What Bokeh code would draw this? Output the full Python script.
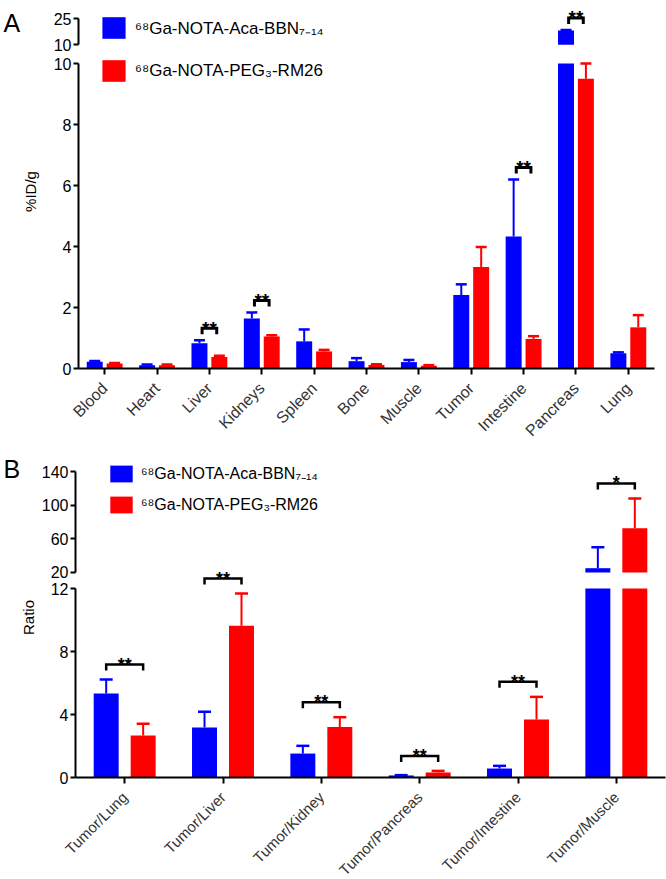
import numpy as np
from bokeh.plotting import figure
from bokeh.models import Range1d, LinearAxis, FixedTicker, Legend, LegendItem, Label
from bokeh.layouts import column
from bokeh.embed import file_html
from bokeh.resources import INLINE
from bokeh.core.properties import value

FONT = "Liberation Sans"
BLUE = "#0000ff"
RED = "#ff0000"
LABEL_BBN = "⁶⁸Ga-NOTA-Aca-BBN₇₋₁₄"
LABEL_RM26 = "⁶⁸Ga-NOTA-PEG₃-RM26"

# ---------------- Panel A data (%ID/g) ----------------
organs = ["Blood", "Heart", "Liver", "Kidneys", "Spleen", "Bone", "Muscle",
          "Tumor", "Intestine", "Pancreas", "Lung"]
a_bbn_mean = [0.22, 0.11, 0.83, 1.64, 0.89, 0.24, 0.21, 2.41, 4.33, 18.3, 0.50]
a_bbn_sd = [0.03, 0.02, 0.10, 0.20, 0.39, 0.10, 0.07, 0.35, 1.87, 0.3, 0.03]
a_rm26_mean = [0.16, 0.11, 0.38, 1.05, 0.56, 0.12, 0.09, 3.33, 0.97, 9.5, 1.35]
a_rm26_sd = [0.02, 0.02, 0.04, 0.04, 0.05, 0.02, 0.02, 0.65, 0.09, 0.5, 0.40]
a_sig_cats = ["Liver", "Kidneys", "Intestine", "Pancreas"]
a_sig_marks = ["**", "**", "**", "**"]
a_low_ticks = [0, 2, 4, 6, 8, 10]
a_high_ticks = [10, 25]

# ---------------- Panel B data (ratios) ----------------
ratios = ["Tumor/Lung", "Tumor/Liver", "Tumor/Kidney", "Tumor/Pancreas",
          "Tumor/Intestine", "Tumor/Muscle"]
b_bbn_mean = [5.33, 3.17, 1.52, 0.13, 0.57, 25.1]
b_bbn_sd = [0.89, 1.00, 0.49, 0.02, 0.17, 24.9]
b_rm26_mean = [2.67, 9.63, 3.20, 0.32, 3.68, 72.5]
b_rm26_sd = [0.74, 2.05, 0.63, 0.10, 1.44, 35.5]
b_sig_cats = ["Tumor/Lung", "Tumor/Liver", "Tumor/Kidney", "Tumor/Pancreas",
              "Tumor/Intestine", "Tumor/Muscle"]
b_sig_marks = ["**", "**", "**", "**", "**", "*"]
b_low_ticks = [0, 4, 8, 12]
b_high_ticks = [20, 60, 100, 140]


def build_panel(cats, m1, s1, m2, s2, sig_cats, sig_marks, low_ticks, high_ticks, cfg):
    n = len(cats)
    W, H = cfg["width"], cfg["height"]
    left, right, bottom = cfg["left"], cfg["right"], cfg["bottom"]
    inner_h = H - bottom
    ppx = (W - left - right) / n
    low_top = cfg["low_top"]
    ppu_low = inner_h / low_top
    h0, h1 = cfg["high_span"]
    ppu_high = inner_h / (h1 - h0)
    x_range = Range1d(-0.5 - left / ppx, n - 0.5 + right / ppx)
    low_range = (-bottom / ppu_low, low_top)
    high_range = (h0 - bottom / ppu_high, h1)

    # the whole canvas is the plotting frame, so nothing outside it is clipped
    p = figure(width=W, height=H, output_backend="svg", toolbar_location=None, title=None,
               x_range=x_range, y_range=Range1d(*low_range),
               x_axis_location=None, y_axis_location=None,
               min_border=0, min_border_left=0, min_border_right=0,
               min_border_top=0, min_border_bottom=0)
    p.extra_y_ranges = {"high": Range1d(*high_range)}
    p.outline_line_color = None
    p.xgrid.visible = False
    p.ygrid.visible = False
    p.background_fill_color = "white"
    p.border_fill_color = "white"

    low_break = low_ticks[-1]
    high_start = high_ticks[0]

    x = np.arange(n, dtype=float)
    bar_renderers = []
    for sign, color, mean, sd in ((-1, BLUE, m1, s1), (1, RED, m2, s2)):
        mean = np.asarray(mean, float)
        sd = np.asarray(sd, float)
        xs = x + sign * cfg["offset"]
        r = p.vbar(x=xs, bottom=0, top=np.minimum(mean, low_break), width=cfg["bar_w"],
                   fill_color=color, line_color=None)
        bar_renderers.append(r)
        hi = mean > low_break
        if hi.any():
            p.vbar(x=xs[hi], bottom=high_start, top=mean[hi], width=cfg["bar_w"],
                   fill_color=color, line_color=None, y_range_name="high")
        for mask, rname in ((~hi, "default"), (hi, "high")):
            if mask.any():
                p.segment(x0=xs[mask], y0=mean[mask], x1=xs[mask], y1=(mean + sd)[mask],
                          line_color=color, line_width=cfg["stem_w"], y_range_name=rname)
                p.scatter(x=xs[mask], y=(mean + sd)[mask], marker="dash", size=cfg["cap"],
                          line_color=color, line_width=cfg["cap_w"], y_range_name=rname)

    # significance brackets
    groups = {"default": dict(xs=[], ys=[], tx=[], ty=[], tt=[]),
              "high": dict(xs=[], ys=[], tx=[], ty=[], tt=[])}
    hw = cfg["bracket_half"]
    for name, mark in zip(sig_cats, sig_marks):
        i = cats.index(name)
        top = max(m1[i] + s1[i], m2[i] + s2[i])
        if max(m1[i], m2[i]) > low_break:
            rname, ppu, rtop = "high", ppu_high, h1
        else:
            rname, ppu, rtop = "default", ppu_low, low_top
        yb = top + cfg["gap"] / ppu
        yb = min(yb, rtop - cfg["min_top"] / ppu)
        ya = yb - cfg["arm"] / ppu
        g = groups[rname]
        g["xs"].append([i - hw, i - hw, i + hw, i + hw])
        g["ys"].append([ya, yb, yb, ya])
        g["tx"].append(i)
        g["ty"].append(yb)
        g["tt"].append(mark)
    for rname, g in groups.items():
        if g["xs"]:
            p.multi_line(xs=g["xs"], ys=g["ys"], line_color="black",
                         line_width=cfg["bracket_w"], line_join="miter", y_range_name=rname)
            p.text(x=g["tx"], y=g["ty"], text=g["tt"], text_font=value(FONT),
                   text_font_style="bold", text_font_size=cfg["star_size"],
                   text_align="center", text_baseline="alphabetic", y_offset=0,
                   text_color="black", y_range_name=rname)

    # axes (drawn at fixed data locations inside the frame)
    axis_style = dict(axis_line_width=2, axis_line_color="black",
                      major_tick_line_width=2, major_tick_line_color="black",
                      major_tick_in=0, minor_tick_in=0, minor_tick_out=0,
                      major_label_text_font=FONT, major_label_text_color="black")
    ax_low = LinearAxis(ticker=FixedTicker(ticks=low_ticks),
                        bounds=(low_ticks[0], low_ticks[-1]), fixed_location=-0.5,
                        major_tick_out=5, major_label_standoff=2,
                        major_label_text_font_size=cfg["ytick_size"], **axis_style)
    ax_high = LinearAxis(y_range_name="high", ticker=FixedTicker(ticks=high_ticks),
                         bounds=(high_ticks[0], high_ticks[-1]), fixed_location=-0.5,
                         major_tick_out=5, major_label_standoff=2,
                         major_label_text_font_size=cfg["ytick_size"], **axis_style)
    ax_x = LinearAxis(ticker=FixedTicker(ticks=list(range(n))),
                      major_label_overrides={i: c for i, c in enumerate(cats)},
                      major_label_orientation=np.pi / 4, fixed_location=0,
                      bounds=(-0.5, n - 0.5),
                      major_tick_out=6, major_label_standoff=cfg["xlabel_standoff"],
                      major_label_text_font_size=cfg["xtick_size"], **axis_style)
    ax_x.major_label_text_color = "#333333"
    p.add_layout(ax_low, "left")
    p.add_layout(ax_high, "left")
    p.add_layout(ax_x, "below")

    # legend
    legend = Legend(items=[LegendItem(label=LABEL_BBN, renderers=[bar_renderers[0]]),
                           LegendItem(label=LABEL_RM26, renderers=[bar_renderers[1]])],
                    location=cfg["legend_loc"], glyph_width=cfg["glyph_w"],
                    glyph_height=cfg["glyph_h"], label_height=cfg["glyph_h"],
                    spacing=cfg["legend_spacing"], padding=0, margin=0,
                    label_standoff=cfg["label_standoff"], border_line_color=None,
                    background_fill_alpha=0, label_text_font=FONT,
                    label_text_font_size=cfg["legend_size"], label_text_color="black")
    p.add_layout(legend)

    # panel letter and y title
    p.add_layout(Label(x=cfg["letter_pos"][0], y=cfg["letter_pos"][1], x_units="screen",
                       y_units="screen", text=cfg["letter"], text_font=FONT,
                       text_font_size="25px", text_baseline="middle", text_color="black"))
    p.add_layout(Label(x=cfg["ytitle_pos"][0], y=cfg["ytitle_pos"][1], x_units="screen",
                       y_units="screen", text=cfg["ytitle"], text_font=FONT,
                       text_font_size="15px", angle=np.pi / 2, text_align="center",
                       text_baseline="middle", text_color="black"))
    return p


cfg_a = dict(width=666, height=445, left=78, right=12, bottom=77,
             low_top=12.066, high_span=(-176.75, 35.56),
             offset=0.19, bar_w=0.305, stem_w=2, cap=11, cap_w=2.5,
             gap=12, min_top=3, arm=6, bracket_half=0.14, bracket_w=3, star_size="19px",
             ytick_size="16px", xtick_size="16px", xlabel_standoff=11,
             legend_loc=(99, 361), glyph_w=29, glyph_h=27, legend_spacing=16,
             label_standoff=7, legend_size="17px",
             letter="A", letter_pos=(3, 423), ytitle="%ID/g", ytitle_pos=(30, 254))

cfg_b = dict(width=666, height=434, left=75, right=1, bottom=102,
             low_top=21.08, high_span=(-223.6, 170.9),
             offset=0.188, bar_w=0.254, stem_w=2, cap=13, cap_w=2.5,
             gap=15, min_top=3, arm=6, bracket_half=0.188, bracket_w=2.5, star_size="18px",
             ytick_size="16px", xtick_size="15px", xlabel_standoff=11,
             legend_loc=(107, 364), glyph_w=28, glyph_h=21, legend_spacing=10,
             label_standoff=6, legend_size="16px",
             letter="B", letter_pos=(3, 411), ytitle="Ratio", ytitle_pos=(28, 262))

pa = build_panel(organs, a_bbn_mean, a_bbn_sd, a_rm26_mean, a_rm26_sd,
                 a_sig_cats, a_sig_marks, a_low_ticks, a_high_ticks, cfg_a)
pb = build_panel(ratios, b_bbn_mean, b_bbn_sd, b_rm26_mean, b_rm26_sd,
                 b_sig_cats, b_sig_marks, b_low_ticks, b_high_ticks, cfg_b)

layout = column(pa, pb, spacing=0)
open("out.html", "w").write(file_html(layout, INLINE))
